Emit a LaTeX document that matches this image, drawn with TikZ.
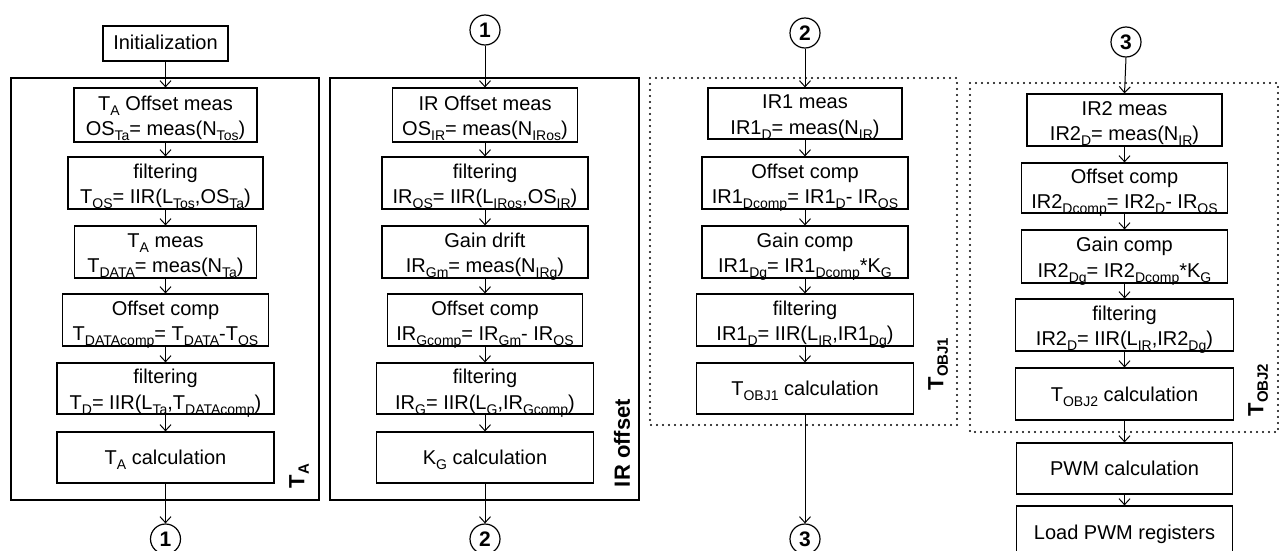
\documentclass[tikz,border=0pt]{standalone}
\usepackage{fontspec}
\setmainfont{Liberation Sans}
\usetikzlibrary{arrows.meta}
\newcommand\sbx[1]{\raisebox{-5pt}{\fontsize{14}{14}\selectfont #1}}
\newcommand\sbb[1]{\raisebox{-4.5pt}{\fontsize{15}{15}\selectfont\bfseries #1}}
\newcommand\mainfnt{\fontsize{20}{25.5}\selectfont}
\tikzset{
  box/.style={draw, line width=1.2pt, inner sep=0pt, align=center, font=\mainfnt},
  hd/.style 2 args={text height=#1pt, text depth=#2pt},
  arr/.style={line width=1pt, -{Straight Barb[length=6pt,width=11pt,line width=1pt]}},
  circ/.style={draw, circle, line width=1.2pt, minimum size=30pt, inner sep=0pt, font=\fontsize{21}{21}\selectfont\bfseries},
  lab/.style={inner sep=0pt, font=\fontsize{22}{22}\selectfont\bfseries, rotate=90},
  frame/.style={line width=1.2pt},
  dotframe/.style={line width=2.1pt, dash pattern=on 0pt off 6pt, line cap=round},
}
\begin{document}
\begin{tikzpicture}[x=1pt,y=-1pt]
\useasboundingbox (0,0) rectangle (1279,551);
% frames
\draw[frame] (11,78) rectangle (319,500);
\draw[frame] (330,78) rectangle (639,500);
\draw[dotframe] (650,78) rectangle (957,425);
\draw[dotframe] (970,83) rectangle (1278,432);
% column 1
\node[box, minimum width=125pt, hd={23}{12}] (init) at (165.5,43.5) {Initialization};
\node[box, minimum width=183pt, hd={47.5}{6.5}] (a1) at (165.5,115) {T\sbx{A} Offset meas\\OS\sbx{Ta}= meas(N\sbx{Tos})};
\node[box, minimum width=195pt, hd={46.5}{5.5}] (a2) at (165.5,183) {filtering\\T\sbx{OS}= IIR(L\sbx{Tos},OS\sbx{Ta})};
\node[box, minimum width=182pt, hd={46.5}{5.5}] (a3) at (165.5,252) {T\sbx{A} meas\\T\sbx{DATA}= meas(N\sbx{Ta})};
\node[box, minimum width=206pt, hd={46.5}{5.5}] (a4) at (165.5,320) {Offset comp\\T\sbx{DATAcomp}= T\sbx{DATA}-T\sbx{OS}};
\node[box, minimum width=217pt, hd={46}{5}] (a5) at (165.5,388.5) {filtering\\T\sbx{D}= IIR(L\sbx{Ta},T\sbx{DATAcomp})};
\node[box, minimum width=217pt, hd={32.5}{18.5}] (a6) at (165.5,457.5) {T\sbx{A} calculation};
\node[circ] (o1b) at (165.5,539) {1};
\node[lab] (la) at (299,476) {T\sbb{A}};
% column 2
\node[circ] (o1t) at (485,30) {1};
\node[box, minimum width=185pt, hd={47.5}{6.5}] (b1) at (485,115) {IR Offset meas\\OS\sbx{IR}= meas(N\sbx{IRos})};
\node[box, minimum width=206pt, hd={46.5}{5.5}] (b2) at (485,183) {filtering\\IR\sbx{OS}= IIR(L\sbx{IRos},OS\sbx{IR})};
\node[box, minimum width=206pt, hd={46.5}{5.5}] (b3) at (485,252) {Gain drift\\IR\sbx{Gm}= meas(N\sbx{IRg})};
\node[box, minimum width=195pt, hd={46.5}{5.5}] (b4) at (485,320) {Offset comp\\IR\sbx{Gcomp}= IR\sbx{Gm}- IR\sbx{OS}};
\node[box, minimum width=217pt, hd={46}{5}] (b5) at (485,388.5) {filtering\\IR\sbx{G}= IIR(L\sbx{G},IR\sbx{Gcomp})};
\node[box, minimum width=217pt, hd={32.5}{18.5}] (b6) at (485,457.5) {K\sbx{G} calculation};
\node[circ] (o2b) at (485,539) {2};
\node[lab] (lb) at (622,443) {IR offset};
% column 3
\node[circ] (o2t) at (805,33) {2};
\node[box, minimum width=194pt, hd={46}{5}] (c1) at (805,113.5) {IR1 meas\\IR1\sbx{D}= meas(N\sbx{IR})};
\node[box, minimum width=206pt, hd={46.5}{5.5}] (c2) at (805,183) {Offset comp\\IR1\sbx{Dcomp}= IR1\sbx{D}- IR\sbx{OS}};
\node[box, minimum width=206pt, hd={46.5}{5.5}] (c3) at (805,252) {Gain comp\\IR1\sbx{Dg}= IR1\sbx{Dcomp}*K\sbx{G}};
\node[box, minimum width=217pt, hd={46.5}{5.5}] (c4) at (805,320) {filtering\\IR1\sbx{D}= IIR(L\sbx{IR},IR1\sbx{Dg})};
\node[box, minimum width=217pt, hd={32.5}{18.5}] (c5) at (805,388.5) {T\sbx{OBJ1} calculation};
\node[circ] (o3b) at (805,539) {3};
\node[lab] (lc) at (938,364) {T\sbb{OBJ1}};
% column 4
\node[circ] (o3t) at (1126,42) {3};
\node[box, minimum width=195pt, hd={46.5}{5.5}] (d1) at (1124.5,120) {IR2 meas\\IR2\sbx{D}= meas(N\sbx{IR})};
\node[box, minimum width=206pt, hd={45.5}{4.5}] (d2) at (1124.5,188) {Offset comp\\IR2\sbx{Dcomp}= IR2\sbx{D}- IR\sbx{OS}};
\node[box, minimum width=206pt, hd={47}{6}] (d3) at (1124.5,256.5) {Gain comp\\IR2\sbx{Dg}= IR2\sbx{Dcomp}*K\sbx{G}};
\node[box, minimum width=218pt, hd={46.5}{5.5}] (d4) at (1124.5,325) {filtering\\IR2\sbx{D}= IIR(L\sbx{IR},IR2\sbx{Dg})};
\node[box, minimum width=218pt, hd={33}{19}] (d5) at (1124.5,394) {T\sbx{OBJ2} calculation};
\node[box, minimum width=216pt, hd={32.5}{18.5}] (d6) at (1124.5,468.5) {PWM calculation};
\node[box, minimum width=216pt, hd={33}{19}] (d7) at (1124.5,532) {Load PWM registers};
\node[lab] (ld) at (1258,390) {T\sbb{OBJ2}};
% connectors
\draw[arr] (init) -- (a1);
\draw[arr] (a1) -- (a2);
\draw[arr] (a2) -- (a3);
\draw[arr] (a3) -- (a4);
\draw[arr] (a4) -- (a5);
\draw[arr] (a5) -- (a6);
\draw[arr] (a6) -- (o1b);
\draw[arr] (o1t) -- (b1);
\draw[arr] (b1) -- (b2);
\draw[arr] (b2) -- (b3);
\draw[arr] (b3) -- (b4);
\draw[arr] (b4) -- (b5);
\draw[arr] (b5) -- (b6);
\draw[arr] (b6) -- (o2b);
\draw[arr] (o2t) -- (c1);
\draw[arr] (c1) -- (c2);
\draw[arr] (c2) -- (c3);
\draw[arr] (c3) -- (c4);
\draw[arr] (c4) -- (c5);
\draw[arr] (c5) -- (o3b);
\draw[arr] (o3t.south) -- (d1.north);
\draw[arr] (d1) -- (d2);
\draw[arr] (d2) -- (d3);
\draw[arr] (d3) -- (d4);
\draw[arr] (d4) -- (d5);
\draw[arr] (d5) -- (d6);
\draw[arr] (d6) -- (d7);
\end{tikzpicture}
\end{document}
